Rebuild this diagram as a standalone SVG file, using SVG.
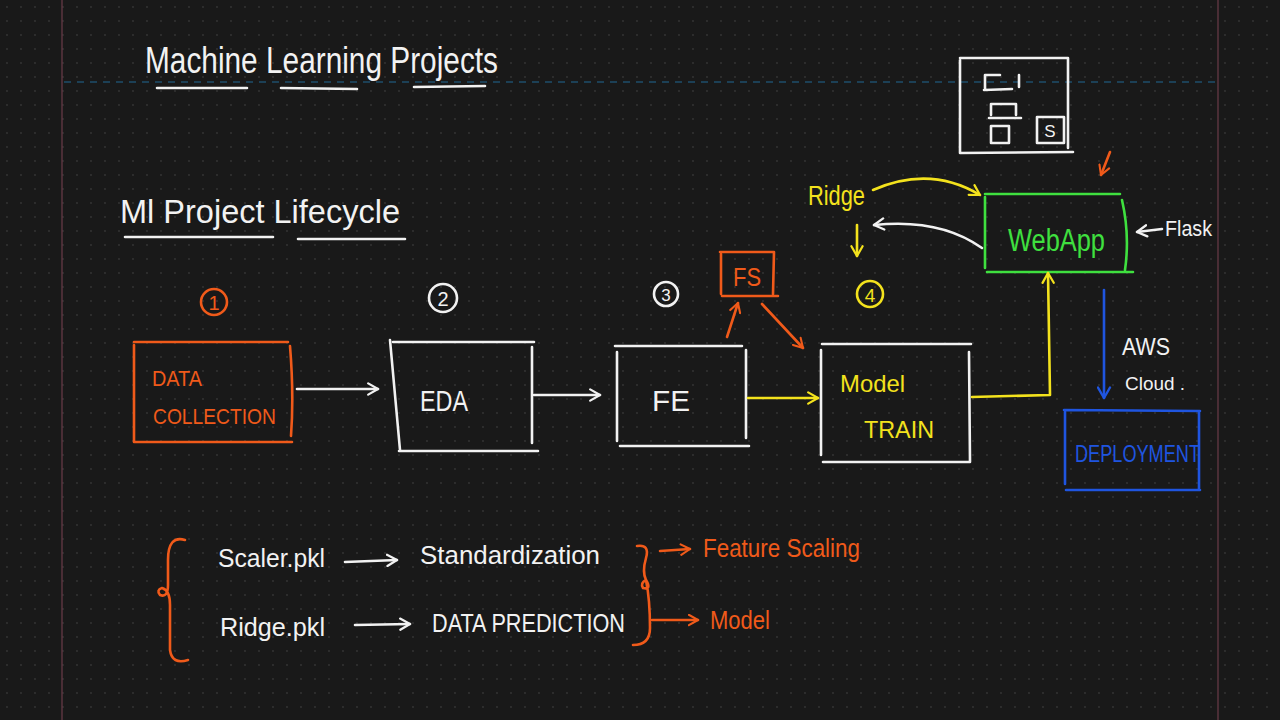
<svg xmlns="http://www.w3.org/2000/svg" width="1280" height="720" viewBox="0 0 1280 720">
<defs>
<pattern id="dots" width="14" height="14" patternUnits="userSpaceOnUse">
<circle cx="7" cy="7" r="0.9" fill="#353535"/>
</pattern>
<marker id="aw" viewBox="0 0 10 10" refX="8" refY="5" markerWidth="14" markerHeight="14" orient="auto" markerUnits="userSpaceOnUse">
<path d="M1,1 L8,5 L1,9" fill="none" stroke="#f2f2f2" stroke-width="1.6" stroke-linecap="round" stroke-linejoin="round"/>
</marker>
<marker id="ay" viewBox="0 0 10 10" refX="8" refY="5" markerWidth="14" markerHeight="14" orient="auto" markerUnits="userSpaceOnUse">
<path d="M1,1 L8,5 L1,9" fill="none" stroke="#f3e21d" stroke-width="1.6" stroke-linecap="round" stroke-linejoin="round"/>
</marker>
<marker id="ao" viewBox="0 0 10 10" refX="8" refY="5" markerWidth="13" markerHeight="13" orient="auto" markerUnits="userSpaceOnUse">
<path d="M1,1 L8,5 L1,9" fill="none" stroke="#f05a1a" stroke-width="1.6" stroke-linecap="round" stroke-linejoin="round"/>
</marker>
<marker id="ab" viewBox="0 0 10 10" refX="8" refY="5" markerWidth="15" markerHeight="15" orient="auto" markerUnits="userSpaceOnUse">
<path d="M1,1 L8,5 L1,9" fill="none" stroke="#1f55e0" stroke-width="1.6" stroke-linecap="round" stroke-linejoin="round"/>
</marker>
</defs>
<style>
text{font-family:"Liberation Sans","DejaVu Sans",sans-serif;}
.w{fill:#f2f2f2}.o{fill:#f05a1a}.y{fill:#f3e21d}.g{fill:#3fe03f}.b{fill:#1f55e0}
.sw{stroke:#f2f2f2}.so{stroke:#f05a1a}.sy{stroke:#f3e21d}.sg{stroke:#3fe03f}.sb{stroke:#1f55e0}
.ln{fill:none;stroke-width:2.6;stroke-linecap:round;stroke-linejoin:round}
</style>
<rect width="1280" height="720" fill="#191919"/>
<rect width="1280" height="720" fill="url(#dots)"/>
<line x1="62" y1="0" x2="62" y2="720" stroke="#6b3b48" stroke-width="1.2"/>
<line x1="1218" y1="0" x2="1218" y2="720" stroke="#6b3b48" stroke-width="1.2"/>
<line x1="64" y1="82" x2="1216" y2="82" stroke="#1e4d6b" stroke-width="1.5" stroke-dasharray="7,6"/>

<g id="title">
<text x="145" y="73" class="w" font-size="36" textLength="353" lengthAdjust="spacingAndGlyphs">Machine  Learning  Projects</text>
<path class="ln sw" d="M157,88 L247,88 M281,88 L357,89 M414,87 L485,86"/>
</g>
<g id="subtitle">
<text x="120" y="223" class="w" font-size="33" textLength="280" lengthAdjust="spacingAndGlyphs">Ml  Project  Lifecycle</text>
<path class="ln sw" d="M125,237 L273,237 M298,239 L405,239"/>
</g>

<g id="step1">
<circle cx="214" cy="302" r="13" class="ln so"/>
<text x="214" y="310" class="o" font-size="20" text-anchor="middle">1</text>
</g>
<g id="step2">
<circle cx="443" cy="298" r="14" class="ln sw"/>
<text x="443" y="306" class="w" font-size="20" text-anchor="middle">2</text>
</g>
<g id="step3">
<circle cx="666" cy="294" r="12" class="ln sw"/>
<text x="666" y="301" class="w" font-size="17" text-anchor="middle">3</text>
</g>
<g id="step4">
<circle cx="870" cy="294" r="13" class="ln sy"/>
<text x="870" y="302" class="y" font-size="19" text-anchor="middle">4</text>
</g>

<g id="data-collection">
<path class="ln so" d="M134,342 L288,342 M134,345 L134,442 M290,346 Q294,395 291,436 M134,442 L292,442"/>
<text x="152" y="386" class="o" font-size="22" textLength="50" lengthAdjust="spacingAndGlyphs">DATA</text>
<text x="153" y="424" class="o" font-size="22" textLength="123" lengthAdjust="spacingAndGlyphs">COLLECTION</text>
</g>
<g id="eda">
<path class="ln sw" d="M390,340 L400,450 M393,342 L534,342 M532,347 L532,443 M399,451 L538,451"/>
<text x="420" y="411" class="w" font-size="30" textLength="48" lengthAdjust="spacingAndGlyphs">EDA</text>
</g>
<g id="fe">
<path class="ln sw" d="M615,346 L742,346 M617,352 L617,441 M746,350 L746,438 M620,446 L749,446"/>
<text x="652" y="411" class="w" font-size="30" textLength="38" lengthAdjust="spacingAndGlyphs">FE</text>
</g>
<g id="fs">
<path class="ln so" d="M720,252 L774,252 L773,294 M721,254 L721,294 M722,296 L778,296"/>
<text x="747" y="286" class="o" font-size="26" text-anchor="middle" textLength="28" lengthAdjust="spacingAndGlyphs">FS</text>
</g>
<g id="model-train">
<path class="ln sw" d="M822,344 L971,344 M821,350 L821,455 M969,352 L970,462 M823,462 L970,462"/>
<text x="840" y="392" class="y" font-size="24" textLength="65" lengthAdjust="spacingAndGlyphs">Model</text>
<text x="864" y="438" class="y" font-size="24" textLength="70" lengthAdjust="spacingAndGlyphs">TRAIN</text>
</g>
<g id="webapp">
<path class="ln sg" d="M985,194 L1120,194 M985,197 L985,268 M1122,200 Q1130,235 1125,270 M987,272 L1133,272"/>
<text x="1008" y="251" class="g" font-size="31" textLength="97" lengthAdjust="spacingAndGlyphs">WebApp</text>
</g>
<g id="ui-mockup">
<path class="ln sw" d="M960,58 L1068,58 L1068,148 M960,60 L960,153 M960,153 L1073,152"/>
<path class="ln sw" stroke-width="2.2" d="M985,90 L985,75 L1000,75 M984,90 L1012,89 M1019,75 L1019,87 M992,104 L1016,104 L1016,115 M991,104 L991,115 M989,118 L1021,118 M991,126 L1009,126 L1009,143 L991,143 Z M1037,117 L1064,117 L1064,143 L1037,143 Z"/>
<text x="1050" y="137" class="w" font-size="17" text-anchor="middle">S</text>
</g>
<g id="ridge-label">
<text x="808" y="205" class="y" font-size="27" textLength="57" lengthAdjust="spacingAndGlyphs">Ridge</text>
</g>
<g id="flask-label">
<text x="1165" y="236" class="w" font-size="22" textLength="47" lengthAdjust="spacingAndGlyphs">Flask</text>
</g>
<g id="aws-label">
<text x="1122" y="355" class="w" font-size="24" textLength="48" lengthAdjust="spacingAndGlyphs">AWS</text>
<text x="1125" y="390" class="w" font-size="19" textLength="60" lengthAdjust="spacingAndGlyphs">Cloud .</text>
</g>
<g id="deployment">
<path class="ln sb" d="M1064,410 L1200,411 M1065,412 L1065,484 M1199,412 L1199,490 M1066,490 L1200,490"/>
<text x="1075" y="462" class="b" font-size="24" textLength="125" lengthAdjust="spacingAndGlyphs">DEPLOYMENT</text>
</g>

<g id="notes">
<path class="ln so" d="M185,540 Q168,535 168,560 L168,585 Q168,598 160,595 Q156,590 162,588 Q170,590 170,605 L170,650 Q172,665 188,660"/>
<text x="218" y="567" class="w" font-size="26" textLength="107" lengthAdjust="spacingAndGlyphs">Scaler.pkl</text>
<text x="420" y="564" class="w" font-size="26" textLength="180" lengthAdjust="spacingAndGlyphs">Standardization</text>
<text x="220" y="636" class="w" font-size="26" textLength="105" lengthAdjust="spacingAndGlyphs">Ridge.pkl</text>
<text x="432" y="632" class="w" font-size="25" textLength="193" lengthAdjust="spacingAndGlyphs">DATA PREDICTION</text>
<path class="ln so" d="M637,546 Q650,544 646,558 Q642,572 646,580 Q652,590 643,588 Q640,583 646,580 Q650,600 650,628 Q650,645 633,645"/>
<text x="703" y="557" class="o" font-size="26" textLength="157" lengthAdjust="spacingAndGlyphs">Feature Scaling</text>
<text x="710" y="629" class="o" font-size="26" textLength="60" lengthAdjust="spacingAndGlyphs">Model</text>
</g>

<g id="connectors">
<path class="ln sw" d="M297,389 L378,389" marker-end="url(#aw)"/>
<path class="ln sw" d="M534,395 L600,395" marker-end="url(#aw)"/>
<path class="ln sy" d="M748,398 L818,398" marker-end="url(#ay)"/>
<path class="ln so" d="M727,337 L738,303" marker-end="url(#ao)"/>
<path class="ln so" d="M762,304 L803,348" marker-end="url(#ao)"/>
<path class="ln sy" d="M972,397 L1050,395 L1048,273" marker-end="url(#ay)"/>
<path class="ln sy" d="M873,190 Q930,165 980,195" marker-end="url(#ay)"/>
<path class="ln sw" d="M982,248 Q940,218 874,225" marker-end="url(#aw)"/>
<path class="ln sy" d="M857,225 L857,256" marker-end="url(#ay)"/>
<path class="ln so" d="M1110,152 L1101,175" marker-end="url(#ao)"/>
<path class="ln sw" d="M1162,229 L1137,232" marker-end="url(#aw)"/>
<path class="ln sb" d="M1104,290 L1104,398" marker-end="url(#ab)"/>
<path class="ln sw" d="M345,562 L397,560" marker-end="url(#aw)"/>
<path class="ln sw" d="M355,625 L410,624" marker-end="url(#aw)"/>
<path class="ln so" d="M660,551 L690,549" marker-end="url(#ao)"/>
<path class="ln so" d="M652,620 L698,620" marker-end="url(#ao)"/>
</g>
</svg>
